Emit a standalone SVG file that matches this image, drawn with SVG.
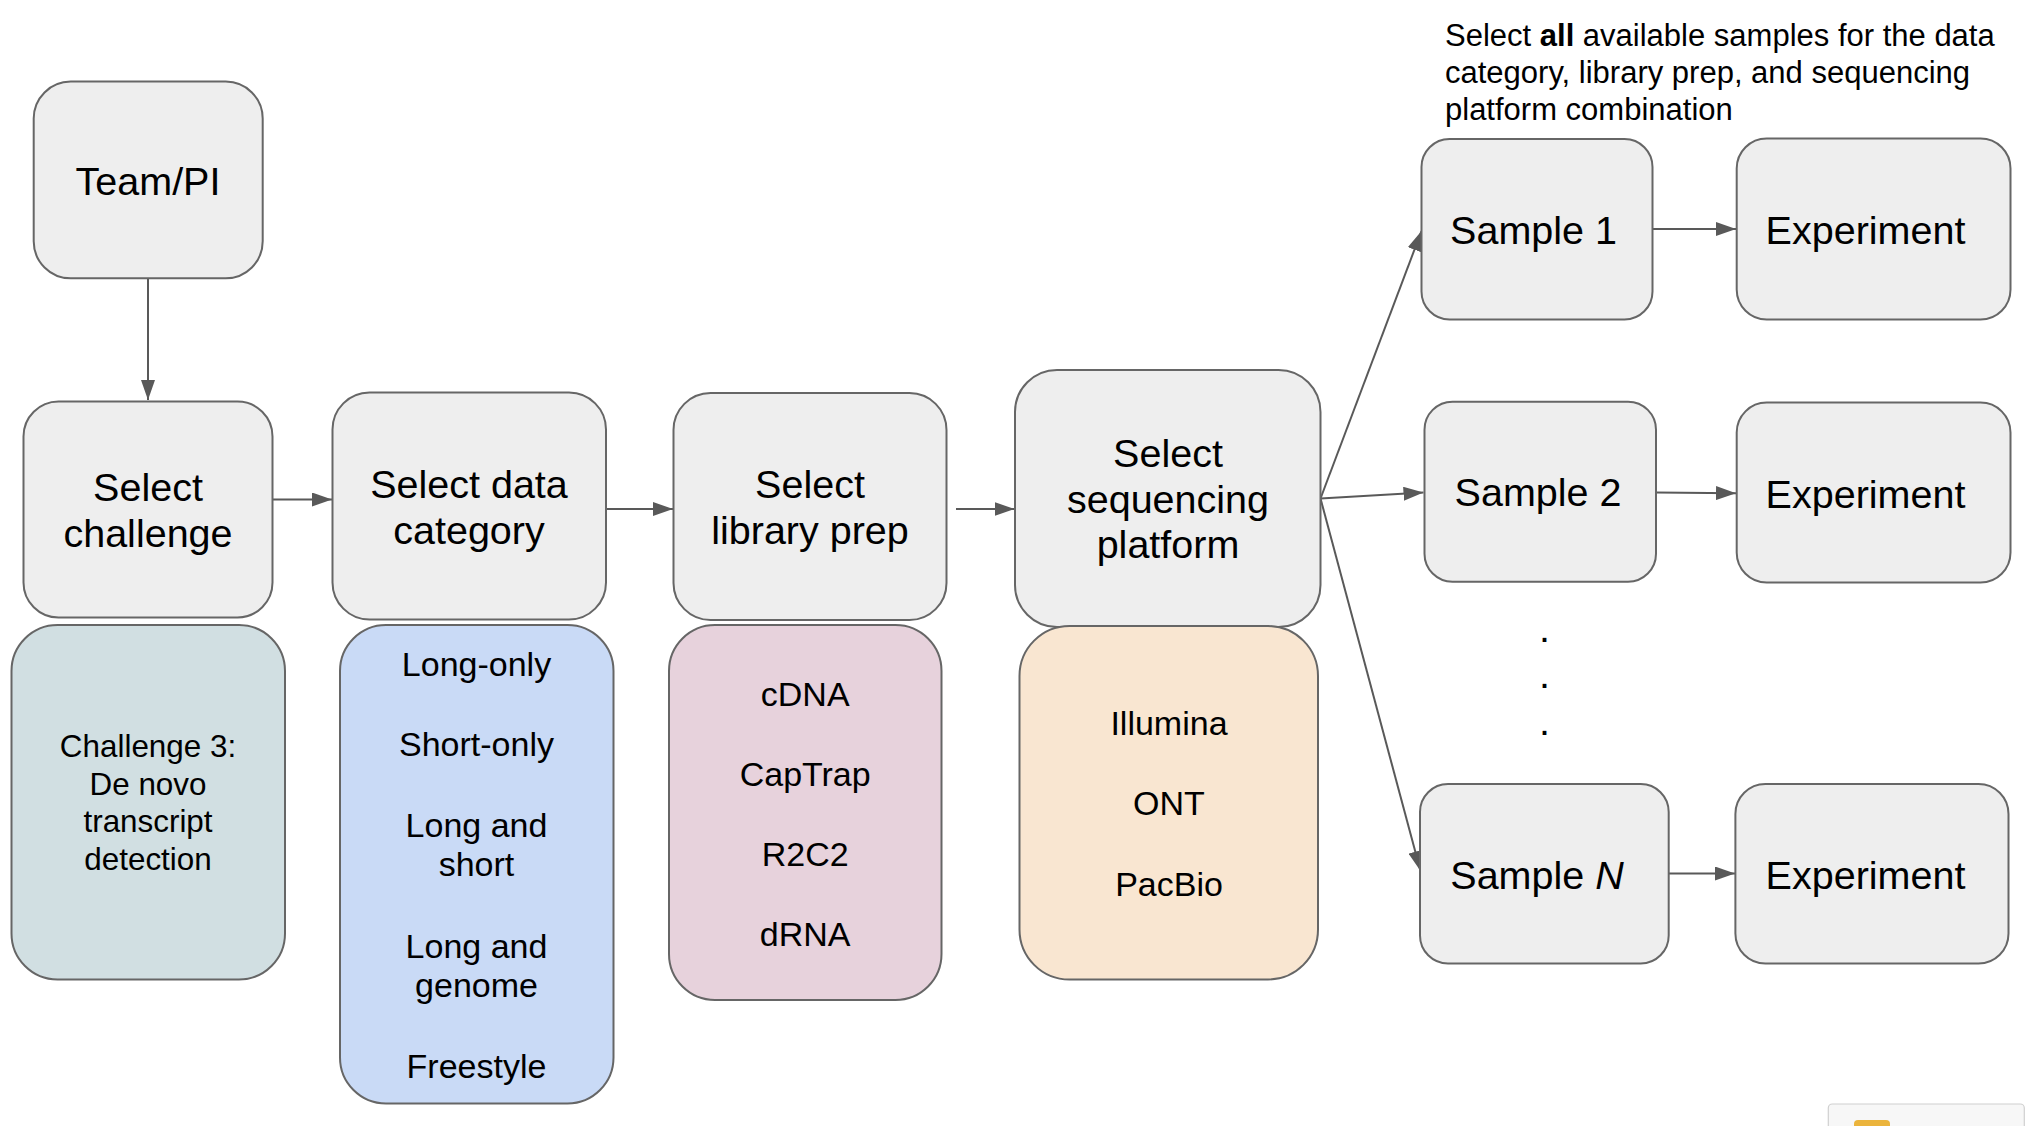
<svg xmlns="http://www.w3.org/2000/svg" width="2030" height="1126" viewBox="0 0 2030 1126">
<defs>
<style>
.box{fill:#eeeeee;stroke:#666666;stroke-width:2}
.t{font-family:"Liberation Sans",Arial,sans-serif;fill:#000000;text-anchor:middle}
.big{font-size:39.5px}
.mid{font-size:34px}
.sm{font-size:31.4px}
.conn{stroke:#595959;stroke-width:2;fill:none;marker-end:url(#arr)}
</style>
<marker id="arr" markerUnits="userSpaceOnUse" markerWidth="20" markerHeight="14" refX="20" refY="7" orient="auto">
<path d="M0,0 L20,7 L0,14 z" fill="#595959"/>
</marker>
</defs>
<rect width="2030" height="1126" fill="#ffffff"/>

<g id="connectors">
<line class="conn" x1="148" y1="278" x2="148" y2="400"/>
<line class="conn" x1="272.5" y1="499.5" x2="332" y2="499.5"/>
<line class="conn" x1="606" y1="509" x2="673" y2="509"/>
<line class="conn" x1="956" y1="509" x2="1014.5" y2="509"/>
<line class="conn" x1="1320.5" y1="498.5" x2="1421.5" y2="231"/>
<line class="conn" x1="1320.5" y1="498.5" x2="1423.5" y2="492.5"/>
<line class="conn" x1="1320.5" y1="498.5" x2="1420.5" y2="871"/>
<line class="conn" x1="1653" y1="229" x2="1736" y2="229"/>
<line class="conn" x1="1656" y1="492.5" x2="1736" y2="493.3"/>
<line class="conn" x1="1669" y1="873.5" x2="1735" y2="873.5"/>
</g>

<g id="team-pi">
<rect class="box" x="33.7" y="81.6" width="229" height="196.7" rx="37" ry="37"/>
<text class="t big" x="148" y="194.5">Team/PI</text>
</g>

<g id="select-challenge">
<rect class="box" x="23.5" y="401.5" width="249" height="216" rx="35" ry="35"/>
<text class="t big" x="148" y="501">Select</text>
<text class="t big" x="148" y="547">challenge</text>
</g>

<g id="select-data-category">
<rect class="box" x="332.5" y="392.5" width="273.5" height="227" rx="37" ry="37"/>
<text class="t big" x="469" y="498">Select data</text>
<text class="t big" x="469" y="544">category</text>
</g>

<g id="select-library-prep">
<rect class="box" x="673.5" y="393" width="273" height="227" rx="37" ry="37"/>
<text class="t big" x="810" y="498">Select</text>
<text class="t big" x="810" y="544">library prep</text>
</g>

<g id="select-sequencing-platform">
<rect class="box" x="1015" y="370" width="305.5" height="257" rx="42" ry="42"/>
<text class="t big" x="1168" y="466.5">Select</text>
<text class="t big" x="1168" y="512.5">sequencing</text>
<text class="t big" x="1168" y="558">platform</text>
</g>

<g id="challenge-list">
<rect x="11.5" y="625" width="273.5" height="354.5" rx="46" ry="46" fill="#d1dfe2" stroke="#666666" stroke-width="2"/>
<text class="t sm" x="148" y="756.5">Challenge 3:</text>
<text class="t sm" x="148" y="794.5">De novo</text>
<text class="t sm" x="148" y="832">transcript</text>
<text class="t sm" x="148" y="869.5">detection</text>
</g>

<g id="data-category-list">
<rect x="340" y="625" width="273.5" height="478.5" rx="46" ry="46" fill="#c9daf6" stroke="#666666" stroke-width="2"/>
<text class="t mid" x="476.5" y="675.5">Long-only</text>
<text class="t mid" x="476.5" y="756">Short-only</text>
<text class="t mid" x="476.5" y="837">Long and</text>
<text class="t mid" x="476.5" y="876">short</text>
<text class="t mid" x="476.5" y="958">Long and</text>
<text class="t mid" x="476.5" y="997">genome</text>
<text class="t mid" x="476.5" y="1077.5">Freestyle</text>
</g>

<g id="library-prep-list">
<rect x="669" y="625" width="272.5" height="375" rx="46" ry="46" fill="#e7d2dc" stroke="#666666" stroke-width="2"/>
<text class="t mid" x="805.2" y="705.5">cDNA</text>
<text class="t mid" x="805.2" y="785.5">CapTrap</text>
<text class="t mid" x="805.2" y="866">R2C2</text>
<text class="t mid" x="805.2" y="946">dRNA</text>
</g>

<g id="platform-list">
<rect x="1019.5" y="626" width="298.5" height="353.5" rx="50" ry="50" fill="#f9e6d1" stroke="#666666" stroke-width="2"/>
<text class="t mid" x="1169" y="734.5">Illumina</text>
<text class="t mid" x="1169" y="815">ONT</text>
<text class="t mid" x="1169" y="895.5">PacBio</text>
</g>

<g id="callout">
<text font-family="Liberation Sans, Arial, sans-serif" font-size="31" fill="#000000">
<tspan x="1445" y="46">Select <tspan font-weight="bold">all</tspan> available samples for the data</tspan>
<tspan x="1445" y="83">category, library prep, and sequencing</tspan>
<tspan x="1445" y="120">platform combination</tspan>
</text>
</g>

<g id="sample-1">
<rect class="box" x="1421.5" y="139" width="231" height="180.5" rx="28" ry="28"/>
<text class="t big" x="1533.5" y="244">Sample 1</text>
</g>

<g id="experiment-1">
<rect class="box" x="1736.7" y="138.5" width="273.8" height="181" rx="30" ry="30"/>
<text class="t big" x="1865.5" y="244">Experiment</text>
</g>

<g id="sample-2">
<rect class="box" x="1424.5" y="401.7" width="231.5" height="180" rx="28" ry="28"/>
<text class="t big" x="1538" y="506">Sample 2</text>
</g>

<g id="experiment-2">
<rect class="box" x="1736.7" y="402.6" width="273.8" height="180" rx="30" ry="30"/>
<text class="t big" x="1865.5" y="507.5">Experiment</text>
</g>

<g id="ellipsis">
<text class="t big" x="1544.5" y="641.5">.</text>
<text class="t big" x="1544.5" y="688">.</text>
<text class="t big" x="1544.5" y="734.5">.</text>
</g>

<g id="sample-n">
<rect class="box" x="1420" y="784" width="248.7" height="179.5" rx="28" ry="28"/>
<text class="t big" x="1537" y="888.5">Sample <tspan font-style="italic">N</tspan></text>
</g>

<g id="experiment-n">
<rect class="box" x="1735.4" y="784" width="273.1" height="179.5" rx="30" ry="30"/>
<text class="t big" x="1865.5" y="888.5">Experiment</text>
</g>

<g id="corner-widget">
<rect x="1828.3" y="1104" width="196" height="40" rx="4" ry="4" fill="#f7f7f7" stroke="#d0d0d0" stroke-width="1.2"/>
<rect x="1854" y="1120" width="36" height="20" rx="4" ry="4" fill="#ebb43c"/>
</g>
</svg>
